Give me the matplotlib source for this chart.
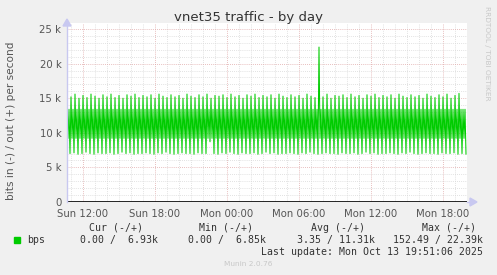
import numpy as np
import matplotlib.pyplot as plt
from matplotlib.patches import Rectangle

# traffic samples (k bits/s), one 20-minute cycle per entry, 5-minute steps inside
peaks = [15.5, 15.2, 15.6, 15.0, 15.4, 15.1, 15.6, 15.3, 15.0, 15.5,
         15.2, 15.6, 15.1, 15.4, 15.0, 15.5, 15.3, 15.6, 15.1, 15.4,
         15.2, 15.5, 15.0, 15.6, 15.3, 15.1, 15.5, 15.2, 15.4, 15.0,
         15.6, 15.3, 15.1, 15.5, 15.2, 15.6, 15.0, 15.4, 15.3, 15.5,
         15.1, 15.6, 15.2, 15.4, 15.0, 15.5, 15.3, 15.6, 15.1, 15.4,
         15.2, 15.5, 15.0, 15.6, 15.3, 15.1, 15.5, 15.2, 15.4, 15.0,
         15.6, 15.3, 15.1, 22.39, 15.2, 15.6, 15.0, 15.4, 15.3, 15.5,
         15.1, 15.6, 15.2, 15.4, 15.0, 15.5, 15.3, 15.6, 15.1, 15.4,
         15.2, 15.5, 15.0, 15.6, 15.3, 15.1, 15.5, 15.2, 15.4, 15.0,
         15.6, 15.3, 15.1, 15.5, 15.2, 15.6, 15.0, 15.4, 15.7, 13.4]
troughs = [7.0, 7.1, 6.9, 7.0, 7.2, 7.0, 6.9, 7.1, 7.0, 7.0,
           7.1, 6.9, 7.0, 7.2, 7.0, 7.1, 6.9, 7.0, 7.0, 7.1,
           7.0, 6.9, 7.1, 7.0, 7.2, 7.0, 6.9, 7.0, 7.1, 7.0,
           7.0, 6.9, 7.1, 7.0, 7.0, 8.7, 7.0, 6.9, 7.1, 7.0,
           7.2, 7.0, 6.9, 7.1, 7.0, 7.0, 7.1, 6.9, 7.0, 7.2,
           7.0, 7.1, 6.9, 7.0, 7.0, 7.1, 7.0, 6.9, 7.1, 7.0,
           7.2, 7.0, 6.9, 7.0, 7.1, 7.0, 7.0, 6.9, 7.1, 7.0,
           7.0, 7.1, 6.9, 7.0, 7.2, 7.0, 7.1, 6.9, 7.0, 7.0,
           7.1, 7.0, 6.9, 7.1, 7.0, 7.2, 7.0, 6.9, 7.0, 7.1,
           7.0, 7.0, 6.9, 7.1, 7.0, 7.0, 7.1, 6.9, 7.0, 6.93]
mid_hi = 13.4
mid_lo = 9.2

start_hour = 10 + 40 / 60   # Sun 10:40
end_hour = 44.0             # Mon 20:00
tick_hours = [12, 18, 24, 30, 36, 42]
tick_labels = ['Sun 12:00', 'Sun 18:00', 'Mon 00:00', 'Mon 06:00', 'Mon 12:00', 'Mon 18:00']
y_ticks = [0, 5000, 10000, 15000, 20000, 25000]
y_labels = ['0', '5 k', '10 k', '15 k', '20 k', '25 k']

headers = ['Cur (-/+)', 'Min (-/+)', 'Avg (-/+)', 'Max (-/+)']
values = ['0.00 /  6.93k', '0.00 /  6.85k', '3.35 / 11.31k', '152.49 / 22.39k']

# build the series
vals = []
for p, t in zip(peaks, troughs):
    vals += [p, mid_lo, mid_hi, t]
vals = np.array(vals) * 1000
hours = start_hour + np.arange(len(vals)) * 5 / 60

W, H = 497, 275
fig = plt.figure(figsize=(W / 100, H / 100), dpi=100, facecolor='#f0f0f0')

def px(x, y):
    return x / W, 1 - y / H

ax = fig.add_axes([67 / W, 73 / H, 400 / W, 179 / H])
ax.set_facecolor('white')
ax.set_xlim(start_hour, end_hour)
ax.set_ylim(0, 25870)

# grid
for h in np.arange(11, 44):
    major = h in tick_hours
    ax.axvline(h, color='#e0a8a8' if major else '#d8d8d8', lw=0.6, ls=(0, (1, 1.5)), zorder=1)
for v in np.arange(1000, 26000, 1000):
    major = v % 5000 == 0
    ax.axhline(v, color='#e0a8a8' if major else '#d8d8d8', lw=0.6, ls=(0, (1, 1.5)), zorder=1)

ax.plot(hours, vals, color='#00cc00', lw=0.75, zorder=3)
ax.axhline(0, color='black', lw=1.2, zorder=4)

for s in ax.spines.values():
    s.set_visible(False)
ax.set_xticks(tick_hours)
ax.set_xticklabels(tick_labels, fontsize=7.3, color='#555555')
ax.set_yticks(y_ticks)
ax.set_yticklabels(y_labels, fontsize=7.3, color='#555555')
ax.tick_params(axis='both', length=0, pad=4)
ax.tick_params(axis='x', pad=5)

# axis lines with arrows
fig.add_artist(plt.Line2D([67 / W, 67 / W], [73 / H, 1 - 25 / H], color='#c8c8f0', lw=1))
fig.add_artist(plt.Polygon([px(63, 26), px(71, 26), px(67, 19)], closed=True, color='#c8c8f0'))
fig.add_artist(plt.Line2D([467 / W, 471 / W], [73 / H, 73 / H], color='#c8c8f0', lw=1))
fig.add_artist(plt.Polygon([px(470, 198), px(470, 206), px(477, 202)], closed=True, color='#c8c8f0'))

fig.text(*px(248, 18), 'vnet35 traffic - by day', ha='center', va='center', fontsize=9.5, color='#333333')
fig.text(*px(11, 121), 'bits in (-) / out (+) per second', rotation=90, ha='center', va='center',
         fontsize=7.6, color='#555555')
fig.text(*px(487, 53), 'RRDTOOL / TOBI OETIKER', rotation=270, ha='center', va='center',
         fontsize=5.3, color='#c8c8c8')

# legend
mono = 'DejaVu Sans Mono'
fs = 7.1
fig.add_artist(Rectangle(px(14, 243), 6 / W, 6 / H, color='#00cc00'))
fig.text(*px(27, 240), 'bps', family=mono, fontsize=fs, ha='left', va='center', color='#333333')
for hx, hd in zip([143, 253, 365, 476], headers):
    fig.text(*px(hx, 228), hd, family=mono, fontsize=fs, ha='right', va='center', color='#333333')
for vx, vl in zip([158, 266, 375, 483], values):
    fig.text(*px(vx, 240), vl, family=mono, fontsize=fs, ha='right', va='center', color='#333333')
fig.text(*px(483, 252), 'Last update: Mon Oct 13 19:51:06 2025', family=mono, fontsize=fs,
         ha='right', va='center', color='#333333')
fig.text(*px(248, 264), 'Munin 2.0.76', fontsize=5.3, ha='center', va='center', color='#c8c8c8')

fig.savefig('out.png', dpi=100, facecolor='#f0f0f0')
